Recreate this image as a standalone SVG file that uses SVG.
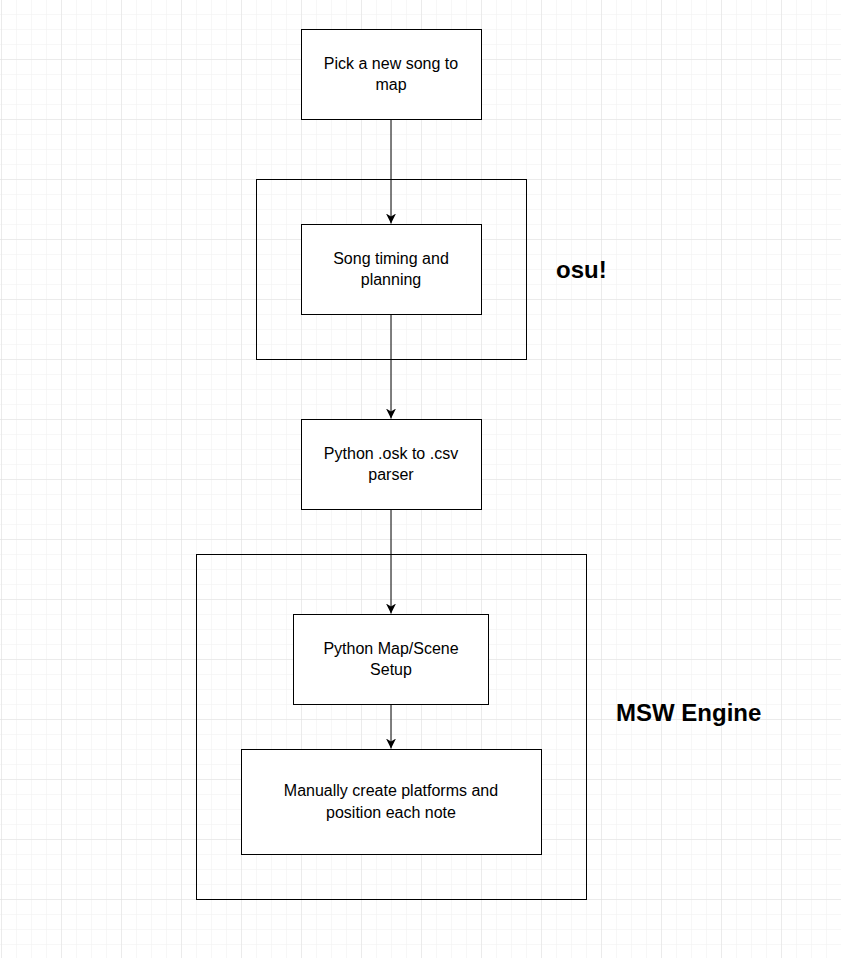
<svg xmlns="http://www.w3.org/2000/svg" width="841" height="958" viewBox="0 0 841 958">
<defs>
<pattern id="minor" x="1" y="14" width="15" height="15" patternUnits="userSpaceOnUse"><path d="M0 0H15M0 0V15" fill="none" stroke="#f0f0f0" stroke-width="1"/></pattern>
<pattern id="major" x="1" y="59" width="60" height="60" patternUnits="userSpaceOnUse"><path d="M0 0H60M0 0V60" fill="none" stroke="#e0e0e0" stroke-width="1"/></pattern>
<marker id="arr" viewBox="0 0 10 10" refX="10" refY="5" markerWidth="10" markerHeight="10" markerUnits="userSpaceOnUse" orient="auto"><path d="M0 0L10 5L0 10L3 5Z" fill="#000"/></marker>
</defs>
<style>
.b{fill:#fff;stroke:#000;stroke-width:1}
.c{fill:none;stroke:#000;stroke-width:1}
.t{font-family:"Liberation Sans",Arial,sans-serif;font-size:16px;text-anchor:middle;fill:#000}
.h{font-family:"Liberation Sans",Arial,sans-serif;font-size:24px;font-weight:bold;fill:#000}
.l{stroke:#000;stroke-width:1;fill:none;marker-end:url(#arr)}
</style>
<rect width="841" height="958" fill="#fff"/>
<rect width="841" height="958" fill="url(#minor)"/>
<rect width="841" height="958" fill="url(#major)"/>
<g id="osu-group"><rect class="c" x="256.5" y="179.5" width="270" height="180"/></g>
<g id="msw-group"><rect class="c" x="196.5" y="554.5" width="390" height="345"/></g>
<g id="connectors">
<path class="l" d="M391 119.5V223.5"/>
<path class="l" d="M391 314.5V418.5"/>
<path class="l" d="M391 509.5V613.5"/>
<path class="l" d="M391 704.5V748.5"/>
</g>
<g id="n1"><rect class="b" x="301.5" y="29.5" width="180" height="90"/><text class="t" x="391" y="69">Pick a new song to</text><text class="t" x="391" y="90">map</text></g>
<g id="n2"><rect class="b" x="301.5" y="224.5" width="180" height="90"/><text class="t" x="391" y="264">Song timing and</text><text class="t" x="391" y="285">planning</text></g>
<g id="n3"><rect class="b" x="301.5" y="419.5" width="180" height="90"/><text class="t" x="391" y="459">Python .osk to .csv</text><text class="t" x="391" y="480">parser</text></g>
<g id="n4"><rect class="b" x="293.5" y="614.5" width="195" height="90"/><text class="t" x="391" y="654">Python Map/Scene</text><text class="t" x="391" y="675">Setup</text></g>
<g id="n5"><rect class="b" x="241.5" y="749.5" width="300" height="105"/><text class="t" x="391" y="796">Manually create platforms and</text><text class="t" x="391" y="818">position each note</text></g>
<g id="lbl-osu"><text class="h" x="556" y="278">osu!</text></g>
<g id="lbl-msw"><text class="h" x="616" y="721">MSW Engine</text></g>
</svg>
